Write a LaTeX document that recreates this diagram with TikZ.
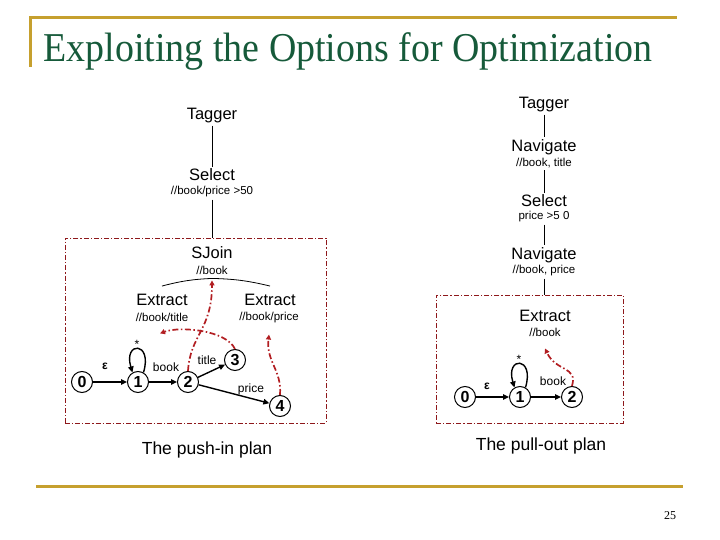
\documentclass[tikz,border=0pt]{standalone}
\usepackage{fontspec}
\setmainfont{Liberation Sans}
\newfontfamily\slidefont{Liberation Serif}
\usetikzlibrary{arrows.meta}

\definecolor{slidegold}{RGB}{198,160,46}
\definecolor{titlegreen}{RGB}{22,90,58}
\definecolor{planred}{RGB}{178,30,34}

\tikzset{
  op/.style={font=\fontsize{16.5}{17}\selectfont, inner sep=2pt},
  arg/.style={font=\fontsize{11.5}{12}\selectfont, inner sep=2pt},
  tree/.style={line width=0.8pt},
  state/.style={circle, draw, line width=1pt, minimum size=21pt, inner sep=0pt, font=\bfseries\fontsize{16}{16}\selectfont},
  trans/.style={line width=1.4pt, -{Triangle[length=6pt,width=5.5pt]}},
  lbl/.style={font=\fontsize{12}{12}\selectfont, inner sep=0pt},
  flow/.style={planred, line width=1.7pt, dash pattern=on 6pt off 2.5pt on 1.5pt off 2.5pt, -{Triangle[length=5pt,width=5pt]}},
  planbox/.style={draw=planred!80!black, line width=0.8pt, dash pattern=on 5pt off 2pt on 1.2pt off 2pt, inner sep=0pt},
  caption/.style={font=\fontsize{17.5}{18}\selectfont, inner sep=0pt}
}

\begin{document}
\begin{tikzpicture}[x=1pt,y=-1pt]
  \useasboundingbox (0,0) rectangle (720,540);
  \draw[slidegold, line width=3pt] (30,67) -- (30,18) -- (677,18);
  \draw[slidegold, line width=3pt] (36,486) -- (683,486);
  \node[titlegreen, font=\slidefont\fontsize{41}{41}\selectfont, inner sep=0pt] (title) at (348,51) {\scalebox{0.925}[1]{Exploiting the Options for Optimization}};
  \node[font=\slidefont\fontsize{12}{12}\selectfont, inner sep=0pt] (page) at (670,516) {25};

  \node[op] (ltag) at (212,116) {Tagger};
  \node[op] (lsel) at (212,175) {Select};
  \node[arg] (lselarg) at (212,192) {//book/price >50};
  \node[planbox, minimum width=261pt, minimum height=185pt] (pushbox) at (195.5,330.5) {};
  \node[op] (ljoin) at (212,253) {SJoin};
  \node[arg] (ljoinarg) at (212,270) {//book};
  \node[op] (lext1) at (162,300) {Extract};
  \node[arg] (lext1arg) at (162,317) {//book/title};
  \node[op] (lext2) at (270,300) {Extract};
  \node[arg] (lext2arg) at (269,318) {//book/price};
  \draw[tree] (ltag.south) -- (lsel.north);
  \draw[tree] (lselarg.south) -- (lselarg.south |- pushbox.north);
  \draw[tree] ([yshift=6pt]lext1.north) to[bend left=6] ([yshift=-2pt]ljoinarg.south) to[bend left=6] ([yshift=6pt]lext2.north);

  \node[state] (l0) at (82,382) {0};
  \node[state] (l1) at (138,382) {1};
  \node[state] (l2) at (188,382) {2};
  \node[state] (l3) at (235,360) {3};
  \node[state] (l4) at (280,406) {4};
  \draw[trans] (l0) -- (l1);
  \draw[trans] (l1) -- (l2);
  \draw[trans] (l2) -- (l3);
  \draw[trans] (l2) -- (l4);
  \draw[trans] (l1.60) .. controls (153,341) and (123,341) .. (l1.120);
  \node[lbl, font=\bfseries\fontsize{12}{12}\selectfont] (leps) at (105,366) {ε};
  \node[lbl] (lstar) at (137,344) {*};
  \node[lbl] (lbook) at (166,367) {book};
  \node[lbl] (ltitle) at (207,360) {title};
  \node[lbl] (lprice) at (251,389) {price};
  \draw[flow] (l2.north) .. controls (190,335) and (212,330) .. ([yshift=-4pt]ljoinarg.south);
  \draw[flow] (l3.north) .. controls (226,330) and (180,326) .. ([shift={(-2,10)}]lext1arg.south);
  \draw[flow] (l4.north) .. controls (282,370) and (266,362) .. ([yshift=-9pt]lext2arg.south);
  \node[caption] (pushcap) at (207,450) {The push-in plan};

  \node[op] (rtag) at (544,105) {Tagger};
  \node[op] (rnav1) at (544,147) {Navigate};
  \node[arg] (rnav1arg) at (544,163) {//book, title};
  \node[op] (rsel) at (544,201) {Select};
  \node[arg] (rselarg) at (544,217) {price >5 0};
  \node[op] (rnav2) at (544,255) {Navigate};
  \node[arg] (rnav2arg) at (544,271) {//book, price};
  \node[planbox, minimum width=187pt, minimum height=128pt] (pullbox) at (529.5,359) {};
  \node[op] (rext) at (545,316) {Extract};
  \node[arg] (rextarg) at (545,332) {//book};
  \draw[tree] (rtag.south) -- (rnav1.north);
  \draw[tree] (rnav1arg.south) -- (rsel.north);
  \draw[tree] (rselarg.south) -- (rnav2.north);
  \draw[tree] (rnav2arg.south) -- (rnav2arg.south |- pullbox.north);

  \node[state] (r0) at (465,397) {0};
  \node[state] (r1) at (520,397) {1};
  \node[state] (r2) at (572,397) {2};
  \draw[trans] (r0) -- (r1);
  \draw[trans] (r1) -- (r2);
  \draw[trans] (r1.60) .. controls (535,356) and (505,356) .. (r1.120);
  \node[lbl, font=\bfseries\fontsize{12}{12}\selectfont] (reps) at (487,386) {ε};
  \node[lbl] (rstar) at (519,359) {*};
  \node[lbl] (rbook) at (553,381) {book};
  \draw[flow] (r2.north) .. controls (578,366) and (556,372) .. ([yshift=-10pt]rextarg.south);
  \node[caption] (pullcap) at (541,446) {The pull-out plan};
\end{tikzpicture}
\end{document}
